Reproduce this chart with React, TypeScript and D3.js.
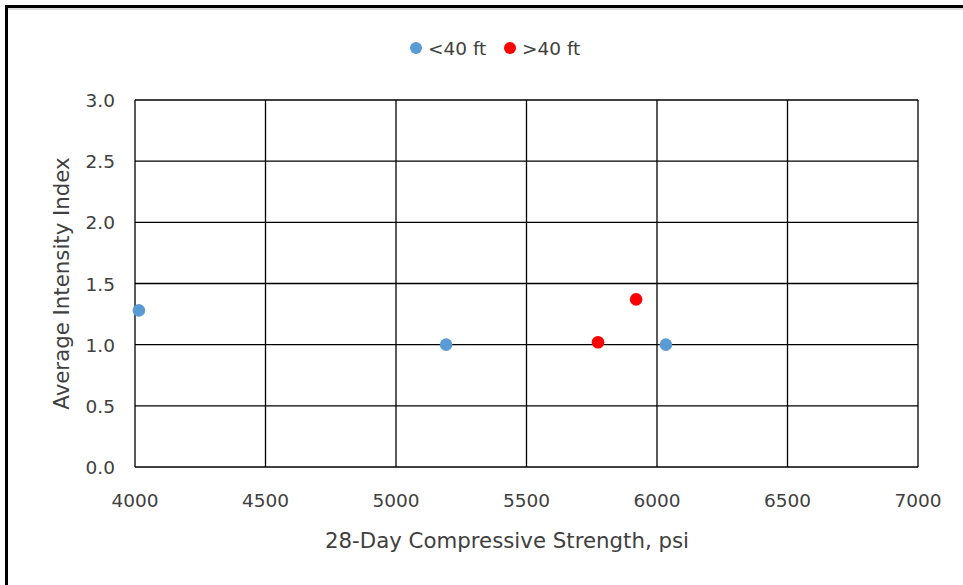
import React from "react";
import * as d3 from "d3";

const seriesNames = ["<40 ft", ">40 ft"];
const seriesColors = ["#5B9BD5", "#FF0000"];
const under40X = [4015, 5192, 6034];
const under40Y = [1.28, 1.0, 1.0];
const over40X = [5774, 5920];
const over40Y = [1.02, 1.37];
const xTicks = [4000, 4500, 5000, 5500, 6000, 6500, 7000];
const yTicks = [0, 0.5, 1.0, 1.5, 2.0, 2.5, 3.0];

const W = 963;
const H = 585;
const FONT = "'DejaVu Sans', 'Noto Sans', sans-serif";

export default function App() {
  const left = 135, right = 918, top = 100, bottom = 467;
  const x = d3.scaleLinear().domain([4000, 7000]).range([left, right]);
  const y = d3.scaleLinear().domain([0, 3]).range([bottom, top]);
  const series = [
    { xs: under40X, ys: under40Y, color: seriesColors[0] },
    { xs: over40X, ys: over40Y, color: seriesColors[1] },
  ];
  return (
    <svg width={W} height={H} style={{ position: "fixed", left: 0, top: 0, background: "#fff" }}>
      <rect x={0} y={0} width={W} height={H} fill="#fff" />
      <line x1={6.5} y1={9} x2={W} y2={9} stroke="#ddd" strokeWidth={2} />
      <rect x={6.5} y={6.5} width={W + 20} height={H + 20} fill="none" stroke="#000" strokeWidth={3} />
      {/* grid */}
      {xTicks.map((t) => (
        <line key={"gx" + t} x1={x(t)} x2={x(t)} y1={top} y2={bottom} stroke="#000" strokeWidth={1.3} />
      ))}
      {yTicks.map((t) => (
        <line key={"gy" + t} x1={left} x2={right} y1={y(t)} y2={y(t)} stroke="#000" strokeWidth={1.3} />
      ))}
      {/* tick labels */}
      {xTicks.map((t) => (
        <text key={"tx" + t} x={x(t)} y={bottom + 40} textAnchor="middle" fontFamily={FONT} fontSize={18.5} fill="#404040">
          {t}
        </text>
      ))}
      {yTicks.map((t) => (
        <text key={"ty" + t} x={left - 20} y={y(t) + 7} textAnchor="end" fontFamily={FONT} fontSize={18.5} fill="#404040">
          {t.toFixed(1)}
        </text>
      ))}
      {/* points */}
      {series.map((s, si) =>
        s.xs.map((v, i) => (
          <circle key={"p" + si + "-" + i} cx={x(v)} cy={y(s.ys[i])} r={6.3} fill={s.color} />
        ))
      )}
      {/* axis titles */}
      <text x={507} y={548} textAnchor="middle" fontFamily={FONT} fontSize={21.3} fill="#404040">
        28-Day Compressive Strength, psi
      </text>
      <text
        transform={`translate(69, ${(top + bottom) / 2}) rotate(-90)`}
        textAnchor="middle"
        fontFamily={FONT}
        fontSize={21.3}
        fill="#404040"
      >
        Average Intensity Index
      </text>
      {/* legend */}
      {seriesNames.map((n, i) => (
        <g key={"lg" + i} transform={`translate(${416 + i * 94}, 48)`}>
          <circle cx={0} cy={0} r={6} fill={seriesColors[i]} />
          <text x={12} y={7} fontFamily={FONT} fontSize={18.5} fill="#404040">
            {n}
          </text>
        </g>
      ))}
    </svg>
  );
}
